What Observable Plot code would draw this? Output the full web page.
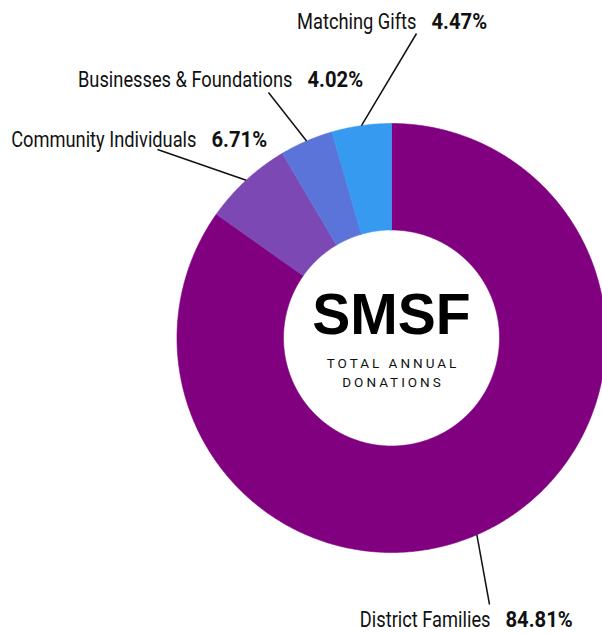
<!DOCTYPE html>
<html>
<head>
<meta charset="utf-8">
<script src="https://cdn.jsdelivr.net/npm/d3@7"></script>
<script src="https://cdn.jsdelivr.net/npm/@observablehq/plot@0.6"></script>
<style>
  html, body { margin: 0; padding: 0; background: #fff; }
  #chart svg { display: block; }
</style>
</head>
<body>
<div id="chart"></div>
<script>
// ---- data ----
const categories = ["District Families", "Community Individuals", "Businesses & Foundations", "Matching Gifts"];
const values = [84.81, 6.71, 4.02, 4.47];
const colors = ["#800080", "#7b48b4", "#5b74d9", "#359af0"];
const centerTitle = "SMSF";
const centerSub = ["TOTAL ANNUAL", "DONATIONS"];

// ---- layout (positions only) ----
const W = 602, H = 634;
const cx = 391, cy = 337.5, R = 214.5, r0 = 108;
// label: right end of name text, baseline, and leader-line end point
const labelLayout = {
  "District Families":        {lx: 490, ly: 626, ex: 489, ey: 604, shift: 3.9},
  "Community Individuals":    {lx: 196, ly: 146, ex: 157, ey: 149, shift: 0},
  "Businesses & Foundations": {lx: 292, ly: 86,  ex: 268, ey: 92,  shift: 0},
  "Matching Gifts":           {lx: 416, ly: 28,  ex: 416, ey: 33,  shift: 0}
};

// ---- derived geometry ----
const total = d3.sum(values);
let acc = 0;
const slices = categories.map((name, i) => {
  const a0 = acc / total * 360;
  acc += values[i];
  const a1 = acc / total * 360;
  return {name, value: values[i], a0, a1};
});
const rad = a => a * Math.PI / 180;
const px = (r, a) => cx + r * Math.sin(rad(a));
const py = (r, a) => cy - r * Math.cos(rad(a));

const ringPts = [];
for (const s of slices) {
  const n = Math.max(2, Math.ceil((s.a1 - s.a0) / 0.4));
  for (let k = 0; k <= n; k++) {
    const a = s.a0 + (s.a1 - s.a0) * k / n;
    ringPts.push({name: s.name, x: px(R, a), y: py(R, a)});
  }
  for (let k = n; k >= 0; k--) {
    const a = s.a0 + (s.a1 - s.a0) * k / n;
    ringPts.push({name: s.name, x: px(r0, a), y: py(r0, a)});
  }
}

const labels = slices.map(s => {
  const L = labelLayout[s.name];
  const am = (s.a0 + s.a1) / 2 + L.shift;
  return {
    name: s.name,
    pct: s.value.toFixed(2) + "%",
    lx: L.lx, ly: L.ly,
    sx: px(R, am), sy: py(R, am),
    ex: L.ex, ey: L.ey
  };
});

const font = "Roboto, 'Noto Sans', sans-serif";

const chart = Plot.plot({
  width: W,
  height: H,
  margin: 0,
  x: {domain: [0, W], range: [0, W], axis: null},
  y: {domain: [0, H], range: [0, H], axis: null},
  color: {domain: categories, range: colors},
  style: {background: "#fff"},
  marks: [
    Plot.line(ringPts, {x: "x", y: "y", z: "name", fill: "name", stroke: "name", strokeWidth: 0.6, curve: "linear-closed"}),
    Plot.link(labels, {x1: "sx", y1: "sy", x2: "ex", y2: "ey", stroke: "#111", strokeWidth: 1.5}),
    Plot.text(labels, {x: "lx", y: "ly", text: "name", textAnchor: "end", lineAnchor: "bottom",
      fontSize: 21.5, fontFamily: font, fill: "#111", ariaDescription: "label-name"}),
    Plot.text(labels, {x: d => d.lx + 15, y: "ly", text: "pct", textAnchor: "start", lineAnchor: "bottom",
      fontSize: 21.5, fontWeight: "bold", fontFamily: font, fill: "#111", ariaDescription: "label-pct"}),
    Plot.text([centerTitle], {x: () => cx, y: () => 333, text: d => d, lineAnchor: "bottom",
      fontSize: 57, fontWeight: "bold", fontFamily: "'Liberation Sans', Arial, sans-serif", fill: "#000"}),
    Plot.text(centerSub, {x: () => cx + 1.5, y: (d, i) => 367 + i * 19.5, text: d => d, lineAnchor: "bottom",
      fontSize: 13.5, fontFamily: font, fill: "#111", ariaDescription: "center-sub"})
  ]
});

document.getElementById("chart").appendChild(chart);

// emulate a condensed face (horizontal squeeze about the anchor) and a letter-spaced caption
const squeeze = {"label-name": 0.85, "label-pct": 0.94};
for (const g of chart.querySelectorAll("g[aria-description]")) {
  const role = g.getAttribute("aria-description");
  for (const t of g.querySelectorAll("text")) {
    if (squeeze[role]) {
      const tr = t.getAttribute("transform") || "";
      t.setAttribute("transform", `${tr} scale(${squeeze[role]},1)`);
    } else if (role === "center-sub") {
      t.setAttribute("letter-spacing", "3px");
    }
  }
}
</script>
</body>
</html>
